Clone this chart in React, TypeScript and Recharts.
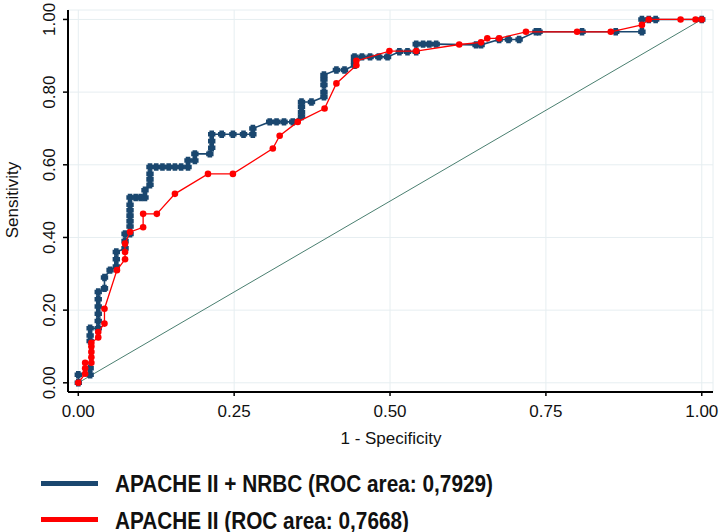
import { ScatterChart, Scatter, XAxis, YAxis, CartesianGrid, ReferenceLine } from 'recharts';

// 1 - specificity / sensitivity
const combinedFpr = [
  0, 0, 0.019, 0.019, 0.019, 0.019, 0.019, 0.032, 0.032, 0.032, 0.032, 0.032, 0.032, 0.042, 0.042,
  0.051, 0.061, 0.061, 0.061, 0.075, 0.075, 0.075, 0.083, 0.083, 0.083, 0.083, 0.083, 0.083, 0.083,
  0.092, 0.1, 0.107, 0.107, 0.115, 0.115, 0.115, 0.115, 0.125, 0.135, 0.145, 0.155, 0.165, 0.176,
  0.176, 0.187, 0.187, 0.211, 0.214, 0.214, 0.214, 0.23, 0.248, 0.265, 0.28, 0.28, 0.307, 0.318,
  0.33, 0.344, 0.358, 0.358, 0.358, 0.358, 0.374, 0.394, 0.394, 0.394, 0.394, 0.394, 0.414, 0.427,
  0.443, 0.443, 0.443, 0.455, 0.468, 0.482, 0.496, 0.515, 0.528, 0.542, 0.542, 0.553, 0.563, 0.574,
  0.638, 0.646, 0.675, 0.69, 0.707, 0.734, 0.739, 0.808, 0.862, 0.904, 0.904, 0.915, 0.926, 1,
];
const combinedTpr = [
  0, 0.022, 0.022, 0.04, 0.115, 0.13, 0.15, 0.15, 0.17, 0.19, 0.21, 0.23, 0.25, 0.26, 0.29,
  0.31, 0.32, 0.34, 0.36, 0.37, 0.39, 0.41, 0.41, 0.43, 0.445, 0.46, 0.475, 0.49, 0.51,
  0.51, 0.51, 0.51, 0.53, 0.545, 0.56, 0.575, 0.594, 0.594, 0.594, 0.594, 0.594, 0.594, 0.594,
  0.612, 0.612, 0.63, 0.63, 0.647, 0.665, 0.684, 0.684, 0.684, 0.684, 0.684, 0.7, 0.718, 0.718,
  0.718, 0.718, 0.733, 0.745, 0.76, 0.773, 0.773, 0.787, 0.8, 0.82, 0.835, 0.847, 0.861, 0.861,
  0.874, 0.885, 0.897, 0.897, 0.897, 0.897, 0.897, 0.911, 0.911, 0.911, 0.932, 0.932, 0.932, 0.932,
  0.93, 0.93, 0.945, 0.945, 0.945, 0.966, 0.966, 0.966, 0.966, 0.966, 1, 1, 1, 1,
];

const apacheFpr = [
  0, 0.011, 0.011, 0.011, 0.021, 0.021, 0.021, 0.021, 0.021, 0.032, 0.032, 0.042, 0.042, 0.062,
  0.075, 0.075, 0.075, 0.083, 0.104, 0.104, 0.126, 0.155, 0.208, 0.248, 0.312, 0.323, 0.352,
  0.395, 0.414, 0.446, 0.446, 0.499, 0.542, 0.611, 0.646, 0.656, 0.675, 0.718, 0.8, 0.854,
  0.904, 0.915, 0.966, 0.99, 1,
];
const apacheTpr = [
  0, 0.025, 0.04, 0.055, 0.055, 0.07, 0.085, 0.1, 0.11, 0.125, 0.14, 0.163, 0.204, 0.31,
  0.34, 0.36, 0.383, 0.415, 0.428, 0.465, 0.465, 0.52, 0.575, 0.575, 0.645, 0.68, 0.718,
  0.755, 0.824, 0.874, 0.886, 0.913, 0.913, 0.931, 0.937, 0.948, 0.948, 0.966, 0.966, 0.966,
  0.985, 1, 1, 1, 1,
];

const xTicks = [0, 0.25, 0.5, 0.75, 1];
const yTicks = [0, 0.2, 0.4, 0.6, 0.8, 1];

const combinedLabel = 'APACHE II + NRBC (ROC area: 0,7929)';
const apacheLabel = 'APACHE II (ROC area: 0,7668)';

const combinedData = combinedFpr.map((x, i) => ({ x, y: combinedTpr[i] }));
const apacheData = apacheFpr.map((x, i) => ({ x, y: apacheTpr[i] }));

const NAVY = '#1a476f';
const RED = '#ff0000';
const FONT = '"Liberation Sans", Arial, sans-serif';

// chunky plus, like the stata marker
const PlusMarker = (props: any) => {
  const { cx, cy } = props;
  if (cx == null || cy == null) return null;
  const a = 3.7;
  const w = 2.3;
  const d = `M${cx - w},${cy - a}H${cx + w}V${cy - w}H${cx + a}V${cy + w}H${cx + w}V${cy + a}H${cx - w}V${cy + w}H${cx - a}V${cy - w}H${cx - w}Z`;
  return <path d={d} fill={NAVY} />;
};

const DotMarker = (props: any) => {
  const { cx, cy } = props;
  if (cx == null || cy == null) return null;
  return <circle cx={cx} cy={cy} r={3.3} fill={RED} />;
};

const XTick = ({ x, y, payload }: any) => (
  <text x={x} y={y + 15} textAnchor="middle" dominantBaseline="central" fontSize={17} fill="#111" fontFamily={FONT}>
    {Number(payload.value).toFixed(2)}
  </text>
);

const YTick = ({ x, y, payload }: any) => (
  <text
    x={x - 13}
    y={y}
    transform={`rotate(-90, ${x - 13}, ${y})`}
    textAnchor="middle"
    dominantBaseline="central"
    fontSize={17}
    fill="#111"
    fontFamily={FONT}
  >
    {Number(payload.value).toFixed(2)}
  </text>
);

export default function App() {
  return (
    <div style={{ position: 'absolute', left: 0, top: 0, width: 722, height: 532, background: '#fff' }}>
      <ScatterChart width={722} height={532} margin={{ top: 10, right: 9, left: 0, bottom: 86 }}>
        <CartesianGrid stroke="#e6eef1" strokeWidth={1} />
        <XAxis
          type="number"
          dataKey="x"
          domain={[-0.0165, 1.018]}
          ticks={xTicks}
          allowDataOverflow
          height={54}
          axisLine={{ stroke: '#000', strokeWidth: 2 }}
          tickLine={{ stroke: '#000', strokeWidth: 1.5 }}
          tickSize={4}
          tickMargin={0}
          tick={<XTick />}
          label={{
            content: () => (
              <text x={391} y={438} textAnchor="middle" dominantBaseline="central" fontSize={17} fill="#111" fontFamily={FONT}>
                1 - Specificity
              </text>
            ),
          }}
        />
        <YAxis
          type="number"
          dataKey="y"
          domain={[-0.0253, 1.026]}
          ticks={yTicks}
          allowDataOverflow
          width={68}
          axisLine={{ stroke: '#000', strokeWidth: 2 }}
          tickLine={{ stroke: '#000', strokeWidth: 1.5 }}
          tickSize={5}
          tickMargin={0}
          tick={<YTick />}
          label={{
            content: () => (
              <text
                x={12}
                y={200}
                transform="rotate(-90, 12, 200)"
                textAnchor="middle"
                dominantBaseline="central"
                fontSize={17}
                fill="#111"
                fontFamily={FONT}
              >
                Sensitivity
              </text>
            ),
          }}
        />
        <ReferenceLine
          segment={[{ x: 0, y: 0 }, { x: 1, y: 1 }]}
          stroke="#4a7f70"
          strokeWidth={1}
        />
        <Scatter
          data={combinedData}
          line={{ stroke: NAVY, strokeWidth: 1.6 }}
          lineType="joint"
          shape={<PlusMarker />}
          isAnimationActive={false}
        />
        <Scatter
          data={apacheData}
          line={{ stroke: RED, strokeWidth: 1.3 }}
          lineType="joint"
          shape={<DotMarker />}
          isAnimationActive={false}
        />
      </ScatterChart>
      <svg width={722} height={532} style={{ position: 'absolute', left: 0, top: 0, pointerEvents: 'none' }}>
        <line x1={41} x2={98} y1={483.5} y2={483.5} stroke={NAVY} strokeWidth={5} />
        <text x={115} y={491.5} fontSize={23} fontWeight="bold" fill="#111" fontFamily={FONT} textLength={378} lengthAdjust="spacingAndGlyphs">
          {combinedLabel}
        </text>
        <line x1={41} x2={98} y1={519.5} y2={519.5} stroke={RED} strokeWidth={5} />
        <text x={115} y={528.5} fontSize={23} fontWeight="bold" fill="#111" fontFamily={FONT} textLength={294} lengthAdjust="spacingAndGlyphs">
          {apacheLabel}
        </text>
      </svg>
    </div>
  );
}
